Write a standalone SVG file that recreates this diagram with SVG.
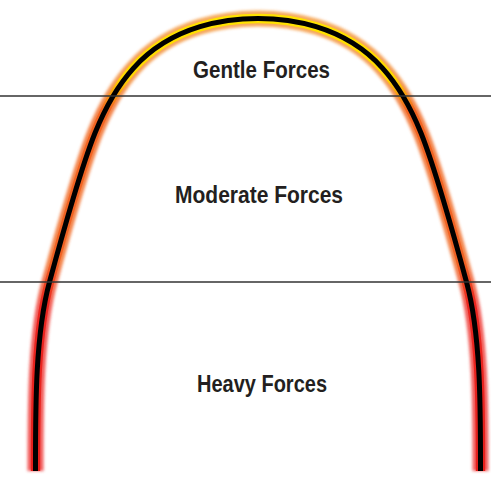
<svg xmlns="http://www.w3.org/2000/svg" width="491" height="477" viewBox="0 0 491 477">
  <defs>
    <linearGradient id="gOuter" gradientUnits="userSpaceOnUse" x1="0" y1="19" x2="0" y2="471">
      <stop offset="0" stop-color="#f5a04a"/>
      <stop offset="0.14" stop-color="#f39040"/>
      <stop offset="0.2" stop-color="#f27636"/>
      <stop offset="0.54" stop-color="#f27636"/>
      <stop offset="0.64" stop-color="#f04844"/>
      <stop offset="1" stop-color="#f04848"/>
    </linearGradient>
    <linearGradient id="gInner" gradientUnits="userSpaceOnUse" x1="0" y1="19" x2="0" y2="471">
      <stop offset="0" stop-color="#ffe200"/>
      <stop offset="0.13" stop-color="#ffd800"/>
      <stop offset="0.2" stop-color="#f26522"/>
      <stop offset="0.54" stop-color="#f06224"/>
      <stop offset="0.63" stop-color="#ea2620"/>
      <stop offset="1" stop-color="#e6201c"/>
    </linearGradient>
    <filter id="blur" x="-10%" y="-10%" width="120%" height="120%">
      <feGaussianBlur stdDeviation="1.6"/>
    </filter>
    <path id="archPath" d="M35.5,471 C35.5,408 35.1,335.1 49.5,282 C56.9,254.6 64.55,227.2 72.7,200 C79.44,177.5 86.28,154.8 95,133 C104.3,109.8 116.6,86.9 133.3,68.3 C150.8,48.8 174.9,34.3 200,26.7 C218.5,21.1 238.5,18.5 258,18.5 C277.5,18.5 297.5,21.1 316,26.7 C341.1,34.3 365.2,48.8 382.7,68.3 C399.4,86.9 411.7,109.8 421,133 C429.72,154.8 436.56,177.5 443.3,200 C451.45,227.2 459.1,254.6 466.5,282 C480.9,335.1 480.5,408 480.5,471"/>
    <style>
      .arch { fill: none; stroke-linecap: butt; stroke-linejoin: round; }
      .divider { stroke: #333333; stroke-width: 1.3; fill: none; }
      .label { font-family: "Liberation Sans", Arial, sans-serif; font-weight: bold; font-size: 24px; fill: #231f20; text-anchor: middle; }
    </style>
  </defs>

  <rect width="491" height="477" fill="#ffffff"/>

  <g id="arch">
    <use href="#archPath" class="arch" stroke="url(#gOuter)" stroke-width="16" filter="url(#blur)" opacity="0.9"/>
    <use href="#archPath" class="arch" stroke="url(#gInner)" stroke-width="9.5"/>
    <use href="#archPath" class="arch" stroke="#000000" stroke-width="5"/>
  </g>

  <g id="connectors">
    <line class="divider" x1="0" y1="96" x2="491" y2="96"/>
    <line class="divider" x1="0" y1="282" x2="491" y2="282"/>
  </g>

  <g id="gentle">
    <text class="label" x="261.5" y="78" textLength="137" lengthAdjust="spacingAndGlyphs">Gentle Forces</text>
  </g>
  <g id="moderate">
    <text class="label" x="259" y="203" textLength="168" lengthAdjust="spacingAndGlyphs">Moderate Forces</text>
  </g>
  <g id="heavy">
    <text class="label" x="262" y="392" textLength="130" lengthAdjust="spacingAndGlyphs">Heavy Forces</text>
  </g>
</svg>
